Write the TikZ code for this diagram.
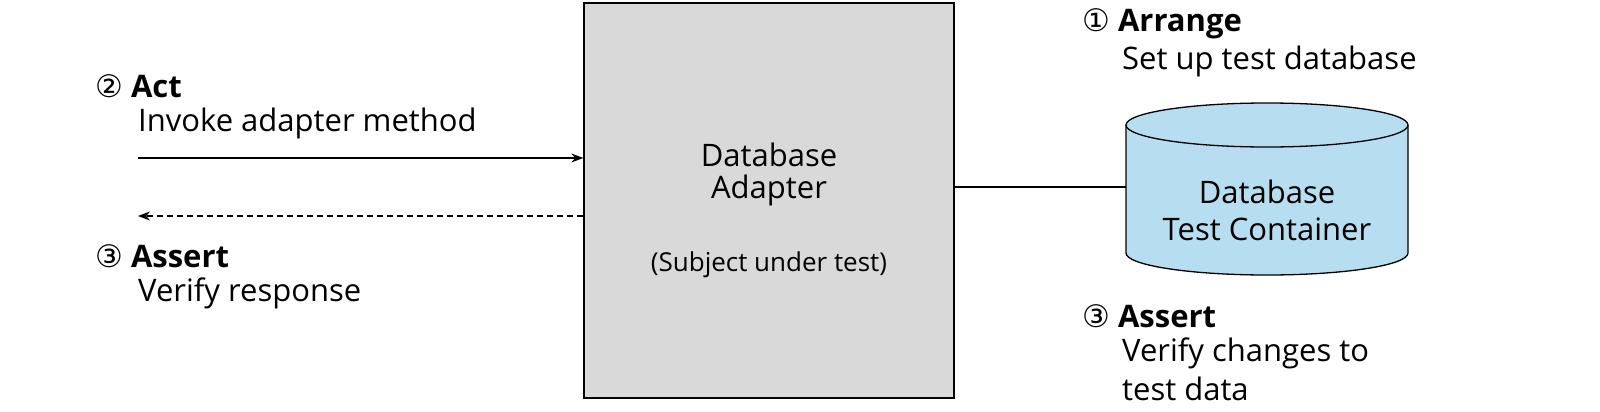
\documentclass[tikz,border=0pt]{standalone}
\usepackage{fontspec}
\setmainfont{Open Sans}
\newfontfamily\circfont{DejaVu Sans}
\usetikzlibrary{arrows.meta}
\begin{document}
\begin{tikzpicture}[x=1pt,y=-1pt,
  lbl/.style={anchor=west,inner sep=0pt,font=\fontsize{31}{36}\selectfont},
  ctr/.style={inner sep=0pt,font=\fontsize{31}{36}\selectfont},
  arr/.style={-{Stealth[length=12pt,width=9pt]},line width=1.3pt}]
\useasboundingbox (0,0) rectangle (1600,412);
\node[draw,line width=1.3pt,fill={rgb,255:red,217;green,217;blue,217},minimum width=370pt,minimum height=395pt,inner sep=0pt] (box) at (769,200.5) {};
\node[ctr] (t1) at (769,155) {Database};
\node[ctr] (t2) at (769,190) {Adapter};
\node[ctr,font=\fontsize{26}{30}\selectfont] (t3) at (769,265) {(Subject under test)};
% cylinder
\filldraw[line width=1.3pt,fill={rgb,255:red,183;green,222;blue,240}] (1126,125) -- (1126,253) arc[start angle=180,end angle=0,x radius=141,y radius=22] -- (1408,125) arc[start angle=0,end angle=-180,x radius=141,y radius=22] -- cycle;
\draw[line width=1.3pt] (1126,125) arc[start angle=180,end angle=0,x radius=141,y radius=22];
\coordinate (cyl) at (1126,187);
\node[ctr] (c1) at (1267,192) {Database};
\node[ctr] (c2) at (1267,229) {Test Container};
\draw[line width=1.3pt] (box.east|-cyl) -- (cyl);
% left arrows
\coordinate (l1) at (138,158);
\coordinate (l2) at (138,216);
\draw[arr] (l1) -- (l1-|box.west);
\draw[arr,dashed,dash pattern=on 6pt off 4pt] (l2-|box.west) -- (l2);
\node[lbl] (a1) at (95,86) {{\circfont②} \textbf{Act}};
\node[lbl] (a2) at (138,123) {Invoke adapter method};
\node[lbl] (a3) at (95,256) {{\circfont③} \textbf{Assert}};
\node[lbl] (a4) at (138,293) {Verify response};
\node[lbl] (r1) at (1082,24) {{\circfont①} \textbf{Arrange}};
\node[lbl] (r2) at (1122,61) {Set up test database};
\node[lbl] (r3) at (1082,316) {{\circfont③} \textbf{Assert}};
\node[lbl] (r4) at (1122,353) {Verify changes to};
\node[lbl] (r5) at (1122,389) {test data};
\end{tikzpicture}
\end{document}
